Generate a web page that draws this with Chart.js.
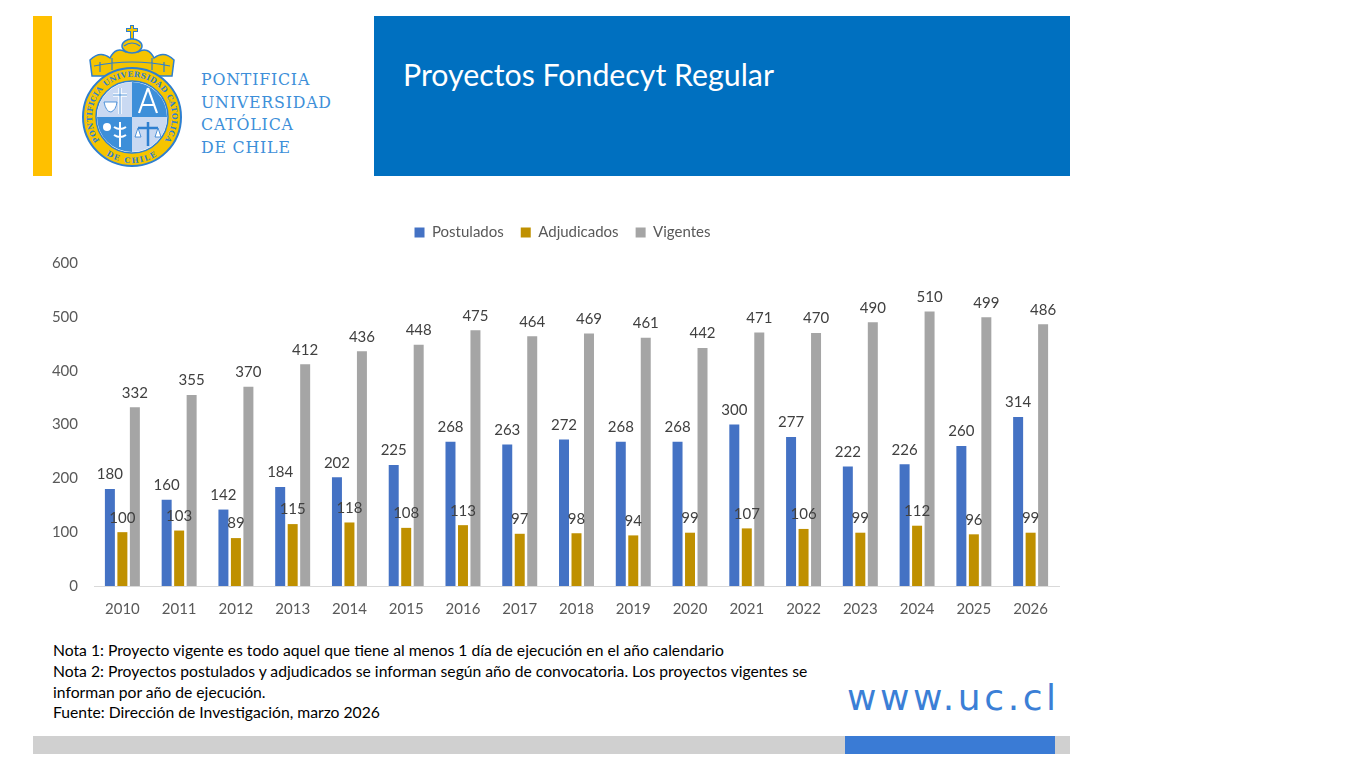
<!DOCTYPE html>
<html>
<head>
<meta charset="utf-8">
<script src="https://cdn.jsdelivr.net/npm/chart.js@4.4.1/dist/chart.umd.min.js"></script>
<style>
  html, body { margin: 0; padding: 0; background: #fff; }
  body { width: 1366px; height: 768px; position: relative; overflow: hidden; font-family: Lato, "Open Sans", sans-serif; }
  .yellow { position: absolute; left: 33px; top: 16px; width: 19px; height: 160px; background: #FFC000; }
  .header { position: absolute; left: 374px; top: 16px; width: 696px; height: 160px; background: #0070C0; }
  .header h1 { margin: 0; position: absolute; left: 29px; top: 40px; color: #fff; font-weight: 400; font-size: 30.3px; font-family: Lato, sans-serif; }
  .logo { position: absolute; left: 78px; top: 20px; }
  .logotext { position: absolute; left: 201px; top: 69px; color: #3D8FD9; font-family: "DejaVu Serif", serif; font-size: 15.8px; line-height: 22.6px; letter-spacing: 0.8px; }
  #wrap { position: absolute; left: 40px; top: 208px; width: 1030px; height: 416px; }
  .notes { position: absolute; left: 53px; top: 640px; font-size: 15.7px; line-height: 20.8px; color: #000; font-family: Lato, sans-serif; }
  .www { position: absolute; left: 847px; top: 677px; color: #3B7FD6; font-family: "DejaVu Sans", sans-serif; font-size: 36px; letter-spacing: 3.6px; }
  .foot { position: absolute; left: 33px; top: 736px; width: 1037px; height: 18px; background: #D0D0D0; }
  .foot2 { position: absolute; left: 845px; top: 736px; width: 210px; height: 18px; background: #3A7BD5; }
</style>
</head>
<body>
<div class="yellow"></div>
<svg class="logo" width="115" height="150" viewBox="0 0 115 150">
  <defs>
    <path id="arcTop" d="M 23.4 122.7 A 40 40 0 1 1 84.6 122.7"/>
    <path id="arcBot" d="M 18.8 126.6 A 46 46 0 0 0 89.2 126.6"/>
  </defs>
  <!-- corona -->
  <path d="M 14 56 L 12 40 Q 22 30 32 38 Q 38 26 48 32 Q 54 24 60 32 Q 70 26 76 38 Q 86 30 96 40 L 94 56 Z" fill="#F5C400" stroke="#2E7FD0" stroke-width="1.5"/>
  <path d="M 16 46 Q 54 38 92 46 M 22 52 L 22 42 M 34 50 L 34 38 M 74 50 L 74 38 M 86 52 L 86 42" stroke="#2E7FD0" stroke-width="1.2" fill="none"/>
  <ellipse cx="54" cy="26" rx="10" ry="7" fill="#F5C400" stroke="#2E7FD0" stroke-width="1.5"/>
  <path d="M 46 26 Q 54 20 62 26" stroke="#2E7FD0" stroke-width="1.2" fill="none"/>
  <path d="M 54 5 L 54 19 M 48 10 L 60 10" stroke="#2E7FD0" stroke-width="4"/>
  <path d="M 54 6 L 54 18 M 49 10 L 59 10" stroke="#F5C400" stroke-width="2"/>
  <!-- escudo -->
  <circle cx="54" cy="97" r="49" fill="#F5C400" stroke="#2E7FD0" stroke-width="2"/>
  <circle cx="54" cy="97" r="36" fill="#fff" stroke="#2E7FD0" stroke-width="1.5"/>
  <path d="M 54 62 A 35 35 0 0 0 19 97 L 54 97 Z" fill="#C9D9F2"/>
  <path d="M 54 62 A 35 35 0 0 1 89 97 L 54 97 Z" fill="#3D8FD9"/>
  <path d="M 19 97 A 35 35 0 0 0 54 132 L 54 97 Z" fill="#3D8FD9"/>
  <path d="M 89 97 A 35 35 0 0 1 54 132 L 54 97 Z" fill="#C9D9F2"/>
  <path d="M 42 68 L 42 94 M 35 75 L 49 75" stroke="#fff" stroke-width="3.5"/>
  <path d="M 42 68 L 42 94 M 35 75 L 49 75" stroke="#2E7FD0" stroke-width="0.8"/>
  <path d="M 26 82 Q 28 92 33 92 Q 38 90 39 82 Z" fill="#fff" stroke="#2E7FD0" stroke-width="0.8"/>
  <path d="M 70 68 L 61 93 M 70 68 L 79 93 M 63 85 L 77 85" stroke="#fff" stroke-width="2.2"/>
  <path d="M 70 102 L 70 126 M 60 108 L 80 108" stroke="#2E7FD0" stroke-width="2.5"/>
  <path d="M 60 108 L 57 117 L 63 117 Z M 80 108 L 77 117 L 83 117 Z" fill="#fff" stroke="#2E7FD0" stroke-width="0.8"/>
  <path d="M 42 102 L 42 127 M 36 107 Q 42 111 48 107 M 36 115 Q 42 119 48 115" stroke="#fff" stroke-width="2" fill="none"/>
  <circle cx="29" cy="107" r="4" fill="#fff"/>
  <text font-family="DejaVu Serif, serif" font-size="7.6" font-weight="bold" fill="#2E7FD0" letter-spacing="0.3"><textPath href="#arcTop" startOffset="50%" text-anchor="middle">PONTIFICIA UNIVERSIDAD CATOLICA</textPath></text>
  <text font-family="DejaVu Serif, serif" font-size="7.6" font-weight="bold" fill="#2E7FD0" letter-spacing="1.5"><textPath href="#arcBot" startOffset="50%" text-anchor="middle">DE CHILE</textPath></text>
</svg>
<div class="logotext">PONTIFICIA<br>UNIVERSIDAD<br>CATÓLICA<br>DE CHILE</div>
<div class="header"><h1>Proyectos Fondecyt Regular</h1></div>

<div id="wrap"><canvas id="myChart"></canvas></div>

<div class="notes">
Nota 1: Proyecto vigente es todo aquel que tiene al menos 1 día de ejecución en el año calendario<br>
Nota 2: Proyectos postulados y adjudicados se informan según año de convocatoria. Los proyectos vigentes se<br>
informan por año de ejecución.<br>
Fuente: Dirección de Investigación, marzo 2026
</div>
<div class="www">www.uc.cl</div>
<div class="foot"></div>
<div class="foot2"></div>

<script>
const years = ["2010", "2011", "2012", "2013", "2014", "2015", "2016", "2017", "2018", "2019", "2020", "2021", "2022", "2023", "2024", "2025", "2026"];
const postulados = [180, 160, 142, 184, 202, 225, 268, 263, 272, 268, 268, 300, 277, 222, 226, 260, 314];
const adjudicados = [100, 103, 89, 115, 118, 108, 113, 97, 98, 94, 99, 107, 106, 99, 112, 96, 99];
const vigentes = [332, 355, 370, 412, 436, 448, 475, 464, 469, 461, 442, 471, 470, 490, 510, 499, 486];
const yTicks = [0, 100, 200, 300, 400, 500, 600];

// etiquetas encima de cada barra (sin plugin externo)
const barLabels = {
    id: 'barLabels',
    afterDatasetsDraw(chart) {
        const c = chart.ctx;
        c.save();
        c.font = '15px Lato, sans-serif';
        c.fillStyle = '#404040';
        c.textAlign = 'center';
        c.textBaseline = 'bottom';
        chart.data.datasets.forEach((ds, i) => {
            chart.getDatasetMeta(i).data.forEach((bar, j) => {
                c.fillText(ds.data[j], bar.x, bar.y - 7);
            });
        });
        c.restore();
    }
};

// mas aire entre leyenda y grafico, y leyenda un poco a la derecha
const legendGap = {
    id: 'legendGap',
    beforeInit(chart) {
        const fit = chart.legend.fit;
        chart.legend.fit = function () {
            fit.bind(chart.legend)();
            this.height += 13;
        };
    },
    afterLayout(chart) {
        chart.legend.left += 13;
        chart.legend.right += 13;
    }
};

new Chart(document.getElementById('myChart'), {
    type: 'bar',
    data: {
        labels: years,
        datasets: [
            { label: 'Postulados', data: postulados, backgroundColor: '#4472C4' },
            { label: 'Adjudicados', data: adjudicados, backgroundColor: '#BF9000' },
            { label: 'Vigentes', data: vigentes, backgroundColor: '#A5A5A5' }
        ]
    },
    options: {
        responsive: true,
        maintainAspectRatio: false,
        animation: false,
        datasets: { bar: { categoryPercentage: 0.66, barPercentage: 0.8 } },
        layout: { padding: { left: 0, right: 11, top: 0, bottom: 0 } },
        scales: {
            x: {
                grid: { display: false },
                border: { color: '#D9D9D9' },
                ticks: { color: '#595959', font: { size: 15, family: 'Lato' }, padding: 6 }
            },
            y: {
                min: 0,
                max: 600,
                afterBuildTicks: (axis) => { axis.ticks = yTicks.map(v => ({ value: v })); },
                afterFit: (axis) => { axis.width = 54; },
                grid: { display: false },
                border: { display: false },
                ticks: { color: '#595959', font: { size: 15, family: 'Lato' }, padding: 8 }
            }
        },
        plugins: {
            legend: {
                position: 'top',
                labels: { boxWidth: 10, boxHeight: 10, color: '#595959', font: { size: 15, family: 'Lato' }, padding: 17 }
            },
            tooltip: { enabled: false }
        }
    },
    plugins: [barLabels, legendGap]
});
</script>
</body>
</html>
